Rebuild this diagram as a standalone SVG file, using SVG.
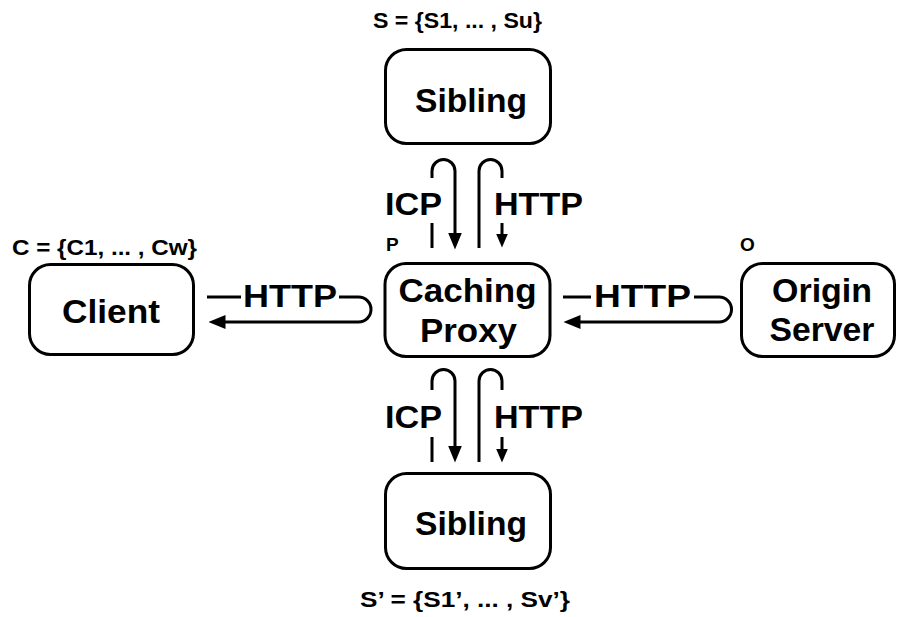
<svg xmlns="http://www.w3.org/2000/svg" width="900" height="617" viewBox="0 0 900 617">
<style>
  .box { fill: #fff; stroke: #000; stroke-width: 3; }
  .lbl { font-family: "Liberation Sans", Arial, sans-serif; font-weight: bold; fill: #000; }
  .big { font-size: 34px; text-anchor: middle; }
  .conn { font-size: 32px; }
  .set { font-size: 22px; text-anchor: middle; }
  .tag { font-size: 19px; }
  .ln { fill: none; stroke: #000; stroke-width: 3; }
</style>
<defs>
  <marker id="ah" viewBox="0 0 17 14" refX="0.5" refY="7" markerWidth="17" markerHeight="14" markerUnits="userSpaceOnUse" orient="auto">
    <path d="M0,0 L17,7 L0,14 z" fill="#000"/>
  </marker>
  <marker id="ahs" viewBox="0 0 14 12" refX="0.5" refY="6" markerWidth="14" markerHeight="12" markerUnits="userSpaceOnUse" orient="auto">
    <path d="M0,0 L14,6 L0,12 z" fill="#000"/>
  </marker>
</defs>
<rect width="900" height="617" fill="#fff"/>

<g id="connectors">
  <!-- top: proxy <-> sibling S -->
  <path class="ln" d="M432,178 V171 A11.5,11.5 0 0 1 455,171 V233" marker-end="url(#ah)"/>
  <path class="ln" d="M432,223 V248"/>
  <path class="ln" d="M479,248 V171 A11.5,11.5 0 0 1 502,171 V178"/>
  <path class="ln" d="M502,223 V234" marker-end="url(#ahs)"/>
  <text class="lbl conn" x="385" y="215" textLength="57" lengthAdjust="spacingAndGlyphs">ICP</text>
  <text class="lbl conn" x="494" y="215" textLength="89" lengthAdjust="spacingAndGlyphs">HTTP</text>
  <!-- bottom: proxy <-> sibling S' -->
  <path class="ln" d="M432,390 V381 A11.5,11.5 0 0 1 455,381 V446" marker-end="url(#ah)"/>
  <path class="ln" d="M432,437 V462"/>
  <path class="ln" d="M479,462 V381 A11.5,11.5 0 0 1 502,381 V390"/>
  <path class="ln" d="M502,437 V449" marker-end="url(#ahs)"/>
  <text class="lbl conn" x="385" y="428" textLength="57" lengthAdjust="spacingAndGlyphs">ICP</text>
  <text class="lbl conn" x="494" y="428" textLength="89" lengthAdjust="spacingAndGlyphs">HTTP</text>
  <!-- left: client <-> proxy -->
  <path class="ln" d="M207,297 H241"/>
  <path class="ln" d="M339,297 H358.5 A12.5,12.5 0 0 1 358.5,322 H225" marker-end="url(#ah)"/>
  <text class="lbl conn" x="243" y="307" textLength="94" lengthAdjust="spacingAndGlyphs">HTTP</text>
  <!-- right: proxy <-> origin -->
  <path class="ln" d="M563,297 H591"/>
  <path class="ln" d="M694,297 H719 A12.5,12.5 0 0 1 719,322 H580" marker-end="url(#ah)"/>
  <text class="lbl conn" x="594" y="307" textLength="97" lengthAdjust="spacingAndGlyphs">HTTP</text>
</g>

<g id="sibling-top">
  <rect class="box" x="385.5" y="49.5" width="165" height="94" rx="21"/>
  <text class="lbl big" x="471" y="112" textLength="112" lengthAdjust="spacingAndGlyphs">Sibling</text>
  <text class="lbl set" x="457.5" y="28" textLength="169" lengthAdjust="spacingAndGlyphs">S = {S1, ... , Su}</text>
</g>

<g id="proxy">
  <rect class="box" x="385" y="263.5" width="165" height="93" rx="21"/>
  <text class="lbl big" x="467.5" y="302" textLength="138" lengthAdjust="spacingAndGlyphs">Caching</text>
  <text class="lbl big" x="468.5" y="342" textLength="97" lengthAdjust="spacingAndGlyphs">Proxy</text>
  <text class="lbl tag" x="386" y="251">P</text>
</g>

<g id="client">
  <rect class="box" x="29.5" y="264.5" width="164" height="90" rx="21"/>
  <text class="lbl big" x="111" y="323" textLength="98" lengthAdjust="spacingAndGlyphs">Client</text>
  <text class="lbl set" x="104.5" y="255" textLength="185" lengthAdjust="spacingAndGlyphs">C = {C1, ... , Cw}</text>
</g>

<g id="origin">
  <rect class="box" x="741.5" y="263.5" width="153" height="93" rx="21"/>
  <text class="lbl big" x="822" y="302" textLength="100" lengthAdjust="spacingAndGlyphs">Origin</text>
  <text class="lbl big" x="822" y="341" textLength="105" lengthAdjust="spacingAndGlyphs">Server</text>
  <text class="lbl tag" x="740" y="251">O</text>
</g>

<g id="sibling-bottom">
  <rect class="box" x="385.5" y="473.5" width="165" height="95" rx="21"/>
  <text class="lbl big" x="471" y="535" textLength="112" lengthAdjust="spacingAndGlyphs">Sibling</text>
  <text class="lbl set" x="465" y="607" textLength="210" lengthAdjust="spacingAndGlyphs">S’ = {S1’, ... , Sv’}</text>
</g>
</svg>
